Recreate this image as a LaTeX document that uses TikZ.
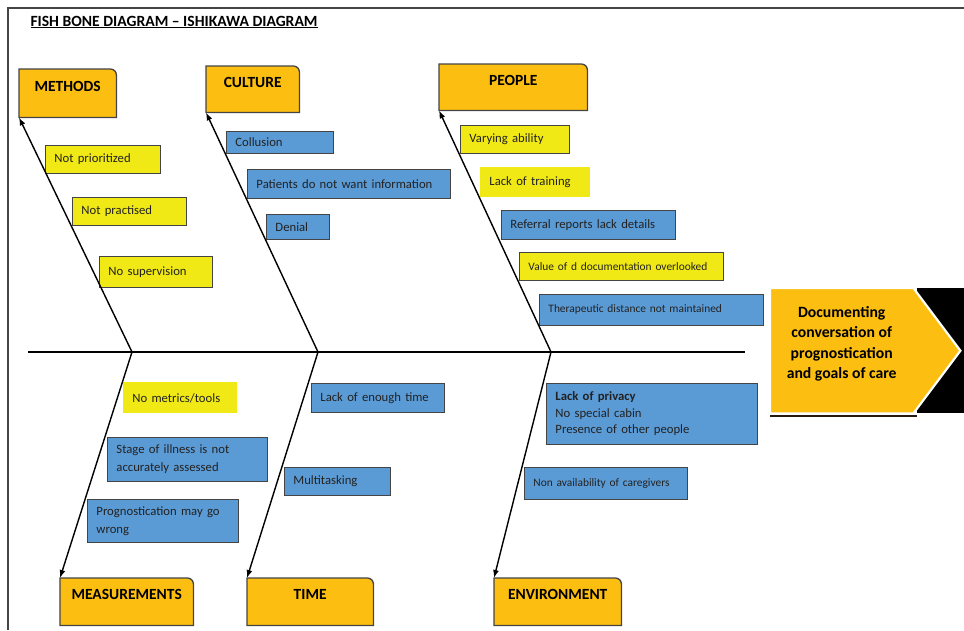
\documentclass[tikz,border=0pt]{standalone}
\usepackage{fontspec}
\setmainfont{Carlito}
\usepackage{xcolor}
\usetikzlibrary{positioning, arrows.meta, backgrounds}

\definecolor{gold}{RGB}{252,190,16}
\definecolor{causeblue}{RGB}{91,155,213}
\definecolor{causeyellow}{RGB}{241,233,22}
\definecolor{edgegray}{RGB}{68,68,68}
\definecolor{inkgray}{RGB}{34,34,34}

\begin{document}
\begin{tikzpicture}[x=1pt, y=-1pt,
    font=\fontsize{12.7}{18}\selectfont, text=inkgray,
    >={Latex[length=8pt,width=6pt]},
    cat/.style={anchor=north west, inner sep=0pt, text height=10pt, text depth=14pt,
                font=\fontsize{15.5}{17}\selectfont\bfseries, text=black},
    catfill/.style={fill=gold, draw=edgegray, line width=1.3pt},
    cause/.style={anchor=north west, inner xsep=9pt, inner ysep=0pt, align=left, line width=0.9pt},
    blue cause/.style={cause, fill=causeblue, draw=edgegray},
    yellow cause/.style={cause, fill=causeyellow, draw=edgegray},
    plain cause/.style={cause, fill=causeyellow},
    small/.style={font=\fontsize{11.4}{15}\selectfont},
    boxw/.style={text width=#1pt-18pt},
    bone/.style={->, line width=1.4pt},
    spine/.style={line width=2pt}]

  \useasboundingbox (0,0) rectangle (964,630);

  % frame
  \draw[edgegray, line width=1.5pt] (8,630) -- (8,8) -- (964,8);

  \node[anchor=west, text=black, font=\fontsize{15.6}{17}\selectfont\bfseries] (title) at (27,22)
       {\underline{FISH BONE DIAGRAM – ISHIKAWA DIAGRAM}};

  % categories
  \node[cat, minimum width=97,  minimum height=48] (methods) at (19,69)   {METHODS};
  \node[cat, minimum width=93,  minimum height=46] (culture) at (206,66)  {CULTURE};
  \node[cat, minimum width=148, minimum height=46] (people)  at (439,64)  {PEOPLE};
  \node[cat, minimum width=133, minimum height=47] (measure) at (60,578)  {MEASUREMENTS};
  \node[cat, minimum width=126, minimum height=47] (time)    at (247,578) {TIME};
  \node[cat, minimum width=127, minimum height=47] (env)     at (494,578) {ENVIRONMENT};

  % effect
  \node[anchor=north west, minimum width=143, minimum height=125, inner sep=0pt, align=center,
        text=black, font=\fontsize{15.7}{20.5}\selectfont\bfseries] (effect) at (770,288)
       {Documenting\\conversation of\\prognostication\\and goals of care\\[-4pt]\mbox{}};

  \begin{scope}[on background layer]
    \fill[black] ([xshift=4pt]effect.north east) rectangle ([xshift=51pt]effect.south east);
    \draw[black!80!brown, line width=1.5pt] ([yshift=-2.5pt]effect.south west) -- ([xshift=4pt,yshift=-2.5pt]effect.south east);
    \filldraw[fill=gold, draw=white, line width=2.2pt]
      (effect.south west) -- (effect.north west) -- (effect.north east)
      -- ([xshift=47pt]effect.east) -- (effect.south east) -- cycle;
    \foreach \cat in {methods, culture, people, measure, time, env}
      \filldraw[catfill] (\cat.south west) -- (\cat.north west) -- ([xshift=-6pt]\cat.north east)
        arc[start angle=90, end angle=0, radius=6pt] -- (\cat.south east) -- cycle;
  \end{scope}

  % methods
  \node[yellow cause, boxw=115, minimum height=28] (notprio)  at (45,145) {Not prioritized};
  \node[yellow cause, boxw=114, minimum height=28] (notpract) at (72,197) {Not practised};
  \node[yellow cause, boxw=113, minimum height=31] (nosuper)  at (99,256) {No supervision};

  % culture
  \node[blue cause, boxw=107, minimum height=22] (collusion) at (226,131) {Collusion};
  \node[blue cause, boxw=203, minimum height=29] (nowant)    at (247,169) {Patients do not want information};
  \node[blue cause, boxw=63,  minimum height=25] (denial)    at (266,214) {Denial};

  % people
  \node[yellow cause, boxw=109, minimum height=28] (varying)  at (460,125) {Varying ability};
  \node[plain cause,  boxw=110, minimum height=30] (training) at (480,167) {Lack of training};
  \node[blue cause,   boxw=174, minimum height=29] (referral) at (501,210) {Referral reports lack details};
  \node[yellow cause, small, boxw=204, minimum height=28] (valuedoc) at (519,252) {Value of d documentation overlooked};
  \node[blue cause,   small, boxw=224, minimum height=31] (distance) at (539,294) {Therapeutic distance not maintained};

  % measurements
  \node[plain cause, boxw=114, minimum height=31] (metrics) at (123,382) {No metrics/tools};
  \node[blue cause,  boxw=160, minimum height=44] (stage)   at (107,437) {Stage of illness is not\\accurately assessed};
  \node[blue cause,  boxw=151, minimum height=43] (wrong)   at (87,499)  {Prognostication may go\\wrong};

  % time
  \node[blue cause, boxw=133, minimum height=29] (enough)    at (311,383) {Lack of enough time};
  \node[blue cause, boxw=106, minimum height=28] (multitask) at (284,467) {Multitasking};

  % environment
  \node[blue cause, boxw=211, minimum height=61, font=\fontsize{12.7}{16.5}\selectfont] (privacy) at (546,383)
       {\textbf{Lack of privacy}\\No special cabin\\Presence of other people};
  \node[blue cause, small, boxw=163, minimum height=32] (caregivers) at (524,467) {Non availability of caregivers};

  % spine and bones
  \coordinate (spineL) at (28,352);
  \coordinate (spineR) at (745,352);
  \coordinate (j1) at (132,352);
  \coordinate (j2) at (318,352);
  \coordinate (j3) at (551,352);

  \draw[spine] (spineL) -- (spineR);

  \draw[bone] (j1) -- (methods.south west);
  \draw[bone] (j2) -- (culture.south west);
  \draw[bone] (j3) -- (people.south west);
  \draw[bone] (j1) -- (measure.north west);
  \draw[bone] (j2) -- (time.north west);
  \draw[bone] (j3) -- (env.north west);
\end{tikzpicture}
\end{document}
